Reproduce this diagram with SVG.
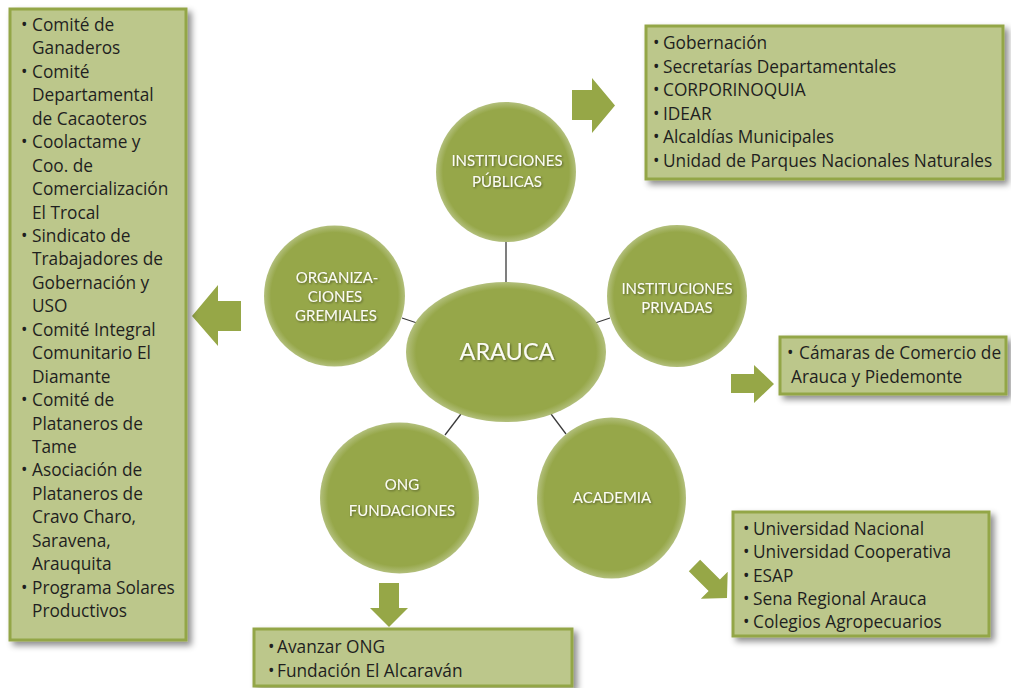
<svg xmlns="http://www.w3.org/2000/svg" width="1011" height="688" viewBox="0 0 1011 688">
<style>
.box{fill:#bcc78b;stroke:#93a646;stroke-width:3;filter:url(#sh)}
.bt{font-family:"Open Sans","Liberation Sans",sans-serif;font-size:17.3px;fill:#1f1f1f}
.ct{font-family:Lato,"Open Sans",sans-serif;font-size:15px;fill:#fbfbf5;text-anchor:middle;filter:url(#tsh)}
.arr{fill:#96a747}
.con{stroke:#3a3a3a;stroke-width:1.3;fill:none}
.node{fill:url(#cg)}
</style>
<defs>
<filter id="sh" x="-10%" y="-10%" width="130%" height="130%">
<feDropShadow dx="4" dy="4" stdDeviation="3" flood-color="#000" flood-opacity="0.45"/>
</filter>
<filter id="tsh" x="-10%" y="-30%" width="120%" height="160%">
<feDropShadow dx="1" dy="1" stdDeviation="0.8" flood-color="#000" flood-opacity="0.45"/>
</filter>
<radialGradient id="cg" cx="50%" cy="50%" r="50%">
<stop offset="0" stop-color="#96a749"/>
<stop offset="0.9" stop-color="#96a749"/>
<stop offset="1" stop-color="#b2bf7c"/>
</radialGradient>
</defs>
<rect width="1011" height="688" fill="#fff"/>

<g id="connectors">
<line class="con" x1="506" y1="242" x2="506" y2="282"/>
<line class="con" x1="402" y1="318" x2="417" y2="323"/>
<line class="con" x1="595" y1="323" x2="610" y2="318"/>
<line class="con" x1="445" y1="435" x2="461" y2="414"/>
<line class="con" x1="551" y1="414" x2="566" y2="434"/>
</g>

<g id="arrows">
<polygon class="arr" points="572,90 592,90 592,78 615,105.5 592,133 592,120 572,120"/>
<polygon class="arr" points="731,374 754,374 754,365 774,384 754,403 754,393 731,393"/>
<polygon class="arr" points="379,583 399,583 399,608 408,608 389,627 370,608 379,608"/>
<polygon class="arr" points="241,301 218,301 218,285 192,316 218,346 218,331 241,331"/>
<polygon class="arr" transform="translate(727,598) rotate(45)" points="-46,-8 -18,-8 -18,-19 0,0 -18,19 -18,8 -46,8"/>
</g>

<g id="center-arauca">
<ellipse class="node" cx="506" cy="352" rx="100" ry="70"/>
<text class="ct" x="507" y="360" style="font-size:23.5px">ARAUCA</text>
</g>
<g id="node-publicas">
<circle class="node" cx="506" cy="172" r="70"/>
<text class="ct" x="507" y="166">INSTITUCIONES</text>
<text class="ct" x="507" y="187">PÚBLICAS</text>
</g>
<g id="node-gremiales">
<circle class="node" cx="334.5" cy="296" r="70.5"/>
<text class="ct" x="337" y="283">ORGANIZA-</text>
<text class="ct" x="335" y="302">CIONES</text>
<text class="ct" x="336" y="320.5">GREMIALES</text>
</g>
<g id="node-privadas">
<ellipse class="node" cx="677" cy="296" rx="70" ry="71"/>
<text class="ct" x="677" y="294">INSTITUCIONES</text>
<text class="ct" x="677" y="313">PRIVADAS</text>
</g>
<g id="node-ong">
<ellipse class="node" cx="399.5" cy="498" rx="79.5" ry="75.5"/>
<text class="ct" x="402" y="490">ONG</text>
<text class="ct" x="402" y="516">FUNDACIONES</text>
</g>
<g id="node-academia">
<ellipse class="node" cx="611.5" cy="498" rx="74.5" ry="80.5"/>
<text class="ct" x="612" y="503">ACADEMIA</text>
</g>

<g id="box-gremiales">
<rect class="box" x="10" y="9" width="176" height="631"/>
<g class="bt">
<text x="21" y="31">•</text><text x="32" y="31">Comité de</text>
<text x="32" y="54.4">Ganaderos</text>
<text x="21" y="77.9">•</text><text x="32" y="77.9">Comité</text>
<text x="32" y="101.3">Departamental</text>
<text x="32" y="124.8">de Cacaoteros</text>
<text x="21" y="148.2">•</text><text x="32" y="148.2">Coolactame y</text>
<text x="32" y="171.6">Coo. de</text>
<text x="32" y="195.1">Comercialización</text>
<text x="32" y="218.5">El Trocal</text>
<text x="21" y="242">•</text><text x="32" y="242">Sindicato de</text>
<text x="32" y="265.4">Trabajadores de</text>
<text x="32" y="288.8">Gobernación y</text>
<text x="32" y="312.3">USO</text>
<text x="21" y="335.7">•</text><text x="32" y="335.7">Comité Integral</text>
<text x="32" y="359.2">Comunitario El</text>
<text x="32" y="382.6">Diamante</text>
<text x="21" y="406">•</text><text x="32" y="406">Comité de</text>
<text x="32" y="429.5">Plataneros de</text>
<text x="32" y="452.9">Tame</text>
<text x="21" y="476.4">•</text><text x="32" y="476.4">Asociación de</text>
<text x="32" y="499.8">Plataneros de</text>
<text x="32" y="523.2">Cravo Charo,</text>
<text x="32" y="546.7">Saravena,</text>
<text x="32" y="570.1">Arauquita</text>
<text x="21" y="593.6">•</text><text x="32" y="593.6">Programa Solares</text>
<text x="32" y="617">Productivos</text>
</g>
</g>

<g id="box-publicas">
<rect class="box" x="646" y="26" width="357" height="153"/>
<g class="bt">
<text x="653" y="49">•</text><text x="663" y="49">Gobernación</text>
<text x="653" y="72.6">•</text><text x="663" y="72.6">Secretarías  Departamentales</text>
<text x="653" y="96.2">•</text><text x="663" y="96.2">CORPORINOQUIA</text>
<text x="653" y="119.8">•</text><text x="663" y="119.8">IDEAR</text>
<text x="653" y="143.4">•</text><text x="663" y="143.4">Alcaldías Municipales</text>
<text x="653" y="167">•</text><text x="663" y="167">Unidad de Parques Nacionales Naturales</text>
</g>
</g>

<g id="box-privadas">
<rect class="box" x="780" y="337" width="226" height="57"/>
<g class="bt">
<text x="787" y="359">•</text><text x="799" y="359">Cámaras de Comercio de</text>
<text x="791" y="383">Arauca y Piedemonte</text>
</g>
</g>

<g id="box-academia">
<rect class="box" x="733" y="512" width="256" height="124"/>
<g class="bt">
<text x="743" y="535">•</text><text x="753" y="535">Universidad Nacional</text>
<text x="743" y="558.3">•</text><text x="753" y="558.3">Universidad Cooperativa</text>
<text x="743" y="581.5">•</text><text x="753" y="581.5">ESAP</text>
<text x="743" y="604.8">•</text><text x="753" y="604.8">Sena Regional Arauca</text>
<text x="743" y="628">•</text><text x="753" y="628">Colegios Agropecuarios</text>
</g>
</g>

<g id="box-ong">
<rect class="box" x="254" y="629" width="318" height="57"/>
<g class="bt">
<text x="268" y="653">•</text><text x="277" y="653">Avanzar ONG</text>
<text x="268" y="677">•</text><text x="277" y="677">Fundación El Alcaraván</text>
</g>
</g>
</svg>
